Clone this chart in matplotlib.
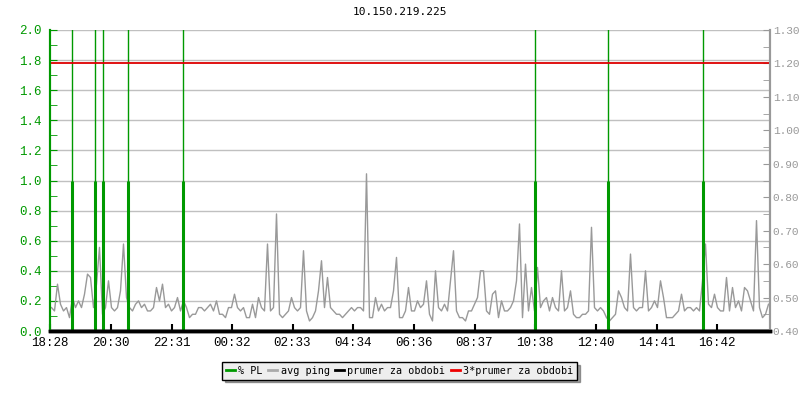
import matplotlib.pyplot as plt
import numpy as np

# avg ping (ms), one value per 6 minutes starting at 18:28
ping = [
    0.47, 0.46, 0.54, 0.48, 0.46, 0.47, 0.44, 0.50, 0.47, 0.49, 0.47, 0.51,
    0.57, 0.56, 0.47, 0.54, 0.65, 0.45, 0.47, 0.55, 0.47, 0.46, 0.47, 0.52,
    0.66, 0.50, 0.47, 0.46, 0.48, 0.49, 0.47, 0.48, 0.46, 0.46, 0.47, 0.53,
    0.49, 0.54, 0.47, 0.48, 0.46, 0.47, 0.50, 0.46, 0.49, 0.47, 0.44, 0.45,
    0.45, 0.47, 0.47, 0.46, 0.47, 0.48, 0.46, 0.49, 0.45, 0.45, 0.44, 0.47,
    0.47, 0.51, 0.47, 0.46, 0.47, 0.44, 0.44, 0.48, 0.44, 0.50, 0.47, 0.46,
    0.66, 0.46, 0.47, 0.75, 0.45, 0.44, 0.45, 0.46, 0.50, 0.47, 0.46, 0.47,
    0.64, 0.46, 0.43, 0.44, 0.46, 0.52, 0.61, 0.47, 0.56, 0.47, 0.46, 0.45,
    0.45, 0.44, 0.45, 0.46, 0.47, 0.46, 0.47, 0.47, 0.46, 0.87, 0.44, 0.44,
    0.50, 0.46, 0.48, 0.46, 0.47, 0.47, 0.52, 0.62, 0.44, 0.44, 0.46, 0.53,
    0.46, 0.46, 0.49, 0.47, 0.48, 0.55, 0.45, 0.43, 0.58, 0.47, 0.46, 0.48,
    0.46, 0.55, 0.64, 0.46, 0.44, 0.44, 0.43, 0.46, 0.46, 0.48, 0.50, 0.58,
    0.58, 0.46, 0.45, 0.51, 0.52, 0.44, 0.49, 0.46, 0.46, 0.47, 0.49, 0.55,
    0.72, 0.44, 0.60, 0.46, 0.53, 0.46, 0.59, 0.47, 0.49, 0.50, 0.46, 0.50,
    0.47, 0.46, 0.58, 0.46, 0.47, 0.52, 0.45, 0.44, 0.44, 0.45, 0.45, 0.46,
    0.71, 0.47, 0.46, 0.47, 0.46, 0.44, 0.43, 0.44, 0.45, 0.52, 0.50, 0.47,
    0.46, 0.63, 0.47, 0.46, 0.47, 0.47, 0.58, 0.46, 0.47, 0.49, 0.47, 0.55,
    0.50, 0.44, 0.44, 0.44, 0.45, 0.46, 0.51, 0.46, 0.47, 0.47, 0.46, 0.47,
    0.46, 0.55, 0.66, 0.48, 0.47, 0.51, 0.47, 0.46, 0.46, 0.56, 0.46, 0.53,
    0.47, 0.49, 0.46, 0.53, 0.52, 0.49, 0.46, 0.73, 0.47, 0.44, 0.45, 0.48,
]
ping_step = 6  # minutes

# packet loss events (minutes after 18:28) and their value in %
pl_times = [43, 90, 105, 155, 265, 969, 1116, 1305]
pl_values = [1.0, 1.0, 1.0, 1.0, 1.0, 1.0, 1.0, 1.0]

prumer = 0.40
tick_labels = ['18:28', '20:30', '22:31', '00:32', '02:33', '04:34',
               '06:36', '08:37', '10:38', '12:40', '14:41', '16:42']

GREEN = '#009900'
GREY = '#999999'
MONO = 'Liberation Mono'


def minutes_after_start(label, start='18:28'):
    h, m = map(int, label.split(':'))
    h0, m0 = map(int, start.split(':'))
    return ((h * 60 + m) - (h0 * 60 + m0)) % 1440


fig = plt.figure(figsize=(8, 4), dpi=100)
ax = fig.add_axes([0.0625, 0.1725, 0.9, 0.7525])
ax2 = ax.twinx()

t = np.arange(len(ping)) * ping_step + ping_step / 2
ax2.plot(t, ping, color=GREY, lw=1)

# packet loss: thin line to the top, thick part up to its value
ax2.vlines(pl_times, 0, 2.05, color=GREEN, lw=1, transform=ax.transData)
ax2.vlines(pl_times, 0, pl_values, color=GREEN, lw=2.2, transform=ax.transData)

ax2.axhline(prumer, color='black', lw=2.5)
ax2.axhline(3 * prumer, color='#dd0000', lw=1.3)

ax.set_xlim(0, 1440)
ax.set_ylim(0, 2.0)
ax2.set_ylim(0.40, 1.30)

ax.set_yticks(np.arange(0, 2.01, 0.2))
ax.set_yticks(np.arange(0, 2.01, 0.1), minor=True)
ax.set_yticklabels([f'{v:.1f}' for v in np.arange(0, 2.01, 0.2)])
ax.yaxis.grid(True, color='#c0c0c0', lw=1)
ax.set_axisbelow(True)
ax.tick_params(axis='y', which='both', direction='in', length=5, color=GREEN,
               labelcolor=GREEN, labelsize=9, pad=6)
for lab in ax.get_yticklabels():
    lab.set_family(MONO)

ax2.set_yticks(np.arange(0.40, 1.301, 0.10))
ax2.set_yticks(np.arange(0.40, 1.301, 0.05), minor=True)
ax2.set_yticklabels([f'{v:.2f}' for v in np.arange(0.40, 1.301, 0.10)])
ax2.tick_params(axis='y', which='both', direction='in', length=5, color=GREY,
                labelcolor=GREY, labelsize=8, pad=2)
for lab in ax2.get_yticklabels():
    lab.set_family(MONO)

ax.set_xticks([minutes_after_start(s) for s in tick_labels])
ax.set_xticklabels(tick_labels, fontsize=9, family=MONO)
ax.tick_params(axis='x', direction='in', length=5, width=1.5, pad=4)

for a in (ax, ax2):
    a.spines['top'].set_visible(False)
    a.spines['left'].set_color(GREEN)
    a.spines['right'].set_color(GREY)
    a.spines['bottom'].set_linewidth(2.5)
    a.spines['left'].set_linewidth(1.5)
    a.spines['right'].set_linewidth(1.5)

fig.text(0.5, 0.97, '10.150.219.225', ha='center', va='center',
         fontsize=8, family='DejaVu Sans Mono')

handles = [
    plt.Line2D([], [], color=GREEN, lw=2),
    plt.Line2D([], [], color='#aaaaaa', lw=2),
    plt.Line2D([], [], color='black', lw=2),
    plt.Line2D([], [], color='#ee0000', lw=2),
]
labels = ['% PL', 'avg ping', 'prumer za obdobi', '3*prumer za obdobi']
leg = fig.legend(handles, labels, loc='center', bbox_to_anchor=(0.4995, 0.0725),
                 ncol=4, frameon=True, fancybox=False, shadow=True,
                 handlelength=0.9, handletextpad=0.35, columnspacing=0.5,
                 borderpad=0.35, prop={'family': 'DejaVu Sans Mono', 'size': 7.3})
leg.get_frame().set_facecolor('#eeeeee')
leg.get_frame().set_edgecolor('black')
leg.get_frame().set_linewidth(1)

fig.savefig('out.png', dpi=100)
